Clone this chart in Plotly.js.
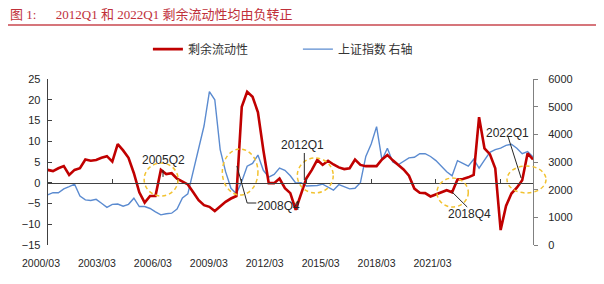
<!DOCTYPE html>
<html><head><meta charset="utf-8">
<script src="https://cdn.plot.ly/plotly-3.0.1.min.js"></script>
<style>html,body{margin:0;padding:0;background:#fff}#chart{width:604px;height:284px}</style>
</head><body><div id="chart"></div>
<script>
// Categories: quarters 2000Q1 .. 2022Q3
const quarters = [];
for (let y = 2000; y <= 2022; y++) {
  for (let q = 1; q <= 4; q++) {
    if (y === 2022 && q > 3) break;
    quarters.push(y + 'Q' + q);
  }
}

const seriesNames = ['剩余流动性', '上证指数 右轴'];

// 剩余流动性 (left axis)
const surplusLiquidity = [
  3.1, 2.8, 3.5, 4.0, 1.9, 3.1, 3.5, 5.6, 5.3, 5.5,
  6.0, 6.4, 5.1, 9.3, 7.8, 6.0, 2.3, -2.3, -4.8, -3.2,
  -3.2, 3.1, 2.1, 2.3, 1.0, 0.3, -0.4, -2.3, -4.2, -5.4,
  -5.8, -6.8, -5.6, -4.6, -3.8, -3.2, 18.3, 21.9, 20.7, 17.0,
  7.9, -0.1, -0.1, 1.0, -1.3, -2.5, -6.5, -2.5, 1.1, 3.1,
  5.5, 4.3, 5.3, 4.4, 3.7, 3.3, 3.5, 5.6, 4.3, 4.0,
  4.0, 4.0, 5.6, 6.7, 5.4, 4.2, 3.2, 1.7, -1.4, -2.4,
  -2.5, -3.3, -2.8, -2.2, -1.8, -2.3, 0.8, 0.9, 1.3, 1.9,
  15.8, 8.3, 6.9, 3.5, -11.4, -5.6, -2.6, -1.2, 0.6, 7.1,
  5.6
];

// 上证指数 (right axis)
const shanghaiIndex = [
  1810, 1890, 1890, 2030, 2110, 2200, 1770, 1630, 1610, 1650,
  1510, 1360, 1470, 1480, 1400, 1470, 1690, 1390, 1390, 1320,
  1200, 1090, 1130, 1150, 1300, 1700, 1850, 2650, 3450, 4300,
  5540, 5250, 3450, 2650, 2050, 1850, 2300, 2850, 2950, 3250,
  2700, 2450, 2550, 2780, 2700, 2500, 2240, 2250, 2130, 2150,
  2150, 2200, 2100, 1980, 2180, 2100, 2030, 2050, 2250, 3200,
  3650, 4280, 3070, 3500, 3000, 2900, 3020, 3150, 3170, 3300,
  3300, 3200, 3050, 2850, 2650, 2500, 3050, 2950, 2850, 3100,
  2780, 3070, 3350, 3450, 3500, 3600, 3640, 3500, 3300, 3380,
  3180
];

const xTickLabels = ['2000/03', '2003/03', '2006/03', '2009/03', '2012/03', '2015/03', '2018/03', '2021/03'];
const markLabels = ['2005Q2', '2008Q4', '2012Q1', '2018Q4', '2022Q1'];

const labelPos = xTickLabels.map((_, i) => i);

const traces = [
  {x: quarters, y: surplusLiquidity, name: seriesNames[0], type: 'scatter', mode: 'lines',
   line: {color: '#c00000', width: 2.6}, xaxis: 'x', yaxis: 'y2', hoverinfo: 'skip'},
  {x: quarters, y: shanghaiIndex, name: seriesNames[1], type: 'scatter', mode: 'lines',
   line: {color: '#5b8bd0', width: 1.4}, xaxis: 'x', yaxis: 'y', hoverinfo: 'skip'},
  {x: [0], y: [null], xaxis: 'x2', yaxis: 'y', mode: 'lines', showlegend: false, hoverinfo: 'skip'}
];

const circleLine = {color: '#f2c230', width: 1.5, dash: '4px,3px'};
const leaderLine = {color: '#262626', width: 1};

const layout = {
  width: 604, height: 284,
  margin: {l: 0, r: 71, t: 79, b: 39, pad: 0},
  paper_bgcolor: '#ffffff', plot_bgcolor: 'rgba(0,0,0,0)',
  font: {family: 'Liberation Sans, Arial, sans-serif', size: 11, color: '#262626'},
  title: {
    text: '图 1:\u00a0\u00a0\u00a0\u00a0\u00a0\u00a02012Q1 和 2022Q1 剩余流动性均由负转正',
    x: 10 / 604, xref: 'container', xanchor: 'left',
    y: 1 - 14 / 284, yref: 'container', yanchor: 'middle',
    font: {family: 'Liberation Serif, Noto Sans CJK SC, serif', size: 13, color: '#c0303a'}
  },
  showlegend: true,
  legend: {
    orientation: 'h', x: 0.2775, xanchor: 'left', y: 1.18, yanchor: 'middle',
    entrywidth: 105, entrywidthmode: 'pixels',
    font: {family: 'Noto Sans CJK SC, sans-serif', size: 12, color: '#333333'},
    bgcolor: 'rgba(0,0,0,0)', traceorder: 'normal'
  },
  xaxis: {
    type: 'category', domain: [47.6 / 533, 1], range: [0, quarters.length - 1],
    anchor: 'free', position: 0.375,
    showline: true, linecolor: '#404040', linewidth: 1,
    ticks: 'inside', ticklen: 4, tickcolor: '#404040',
    tickmode: 'linear', tick0: 0, dtick: 12,
    showticklabels: false, showgrid: false, zeroline: false, fixedrange: true
  },
  xaxis2: {
    domain: [0, 1], anchor: 'y', range: [-0.733, 8.797],
    tickmode: 'array', tickvals: labelPos, ticktext: xTickLabels,
    showline: false, ticks: '', showgrid: false, zeroline: false,
    ticklabelstandoff: 10, tickfont: {size: 10.5, color: '#262626'}, fixedrange: true
  },
  yaxis: {
    domain: [0, 1], anchor: 'x', side: 'right', range: [0, 6000], dtick: 1000,
    ticks: 'outside', ticklen: 4, tickcolor: '#808080',
    showline: true, linecolor: '#808080', linewidth: 1,
    showgrid: false, zeroline: false, ticklabelstandoff: 8,
    tickfont: {size: 11, color: '#262626'}, fixedrange: true
  },
  yaxis2: {
    overlaying: 'y', anchor: 'x', side: 'left', range: [-15, 25], dtick: 5,
    ticks: 'inside', ticklen: 4, tickcolor: '#404040',
    showline: true, linecolor: '#404040', linewidth: 1,
    showgrid: false, zeroline: false, ticklabelstandoff: 4,
    tickfont: {size: 11, color: '#262626'}, fixedrange: true
  },
  shapes: [
    {type: 'line', xref: 'paper', yref: 'paper', x0: 8 / 533, x1: 596 / 533, y0: 1.325, y1: 1.325,
     line: {color: '#c8474f', width: 1.5}},
    {type: 'circle', xref: 'x', yref: 'y2', x0: 17.9, x1: 24.2, y0: -3.19, y1: 4.76, line: circleLine},
    {type: 'circle', xref: 'x', yref: 'y2', x0: 32.4, x1: 39.0, y0: -2.95, y1: 8.13, line: circleLine},
    {type: 'circle', xref: 'x', yref: 'y2', x0: 46.3, x1: 52.96, y0: -2.47, y1: 5.96, line: circleLine},
    {type: 'circle', xref: 'x', yref: 'y2', x0: 72.2, x1: 78.0, y0: -5.84, y1: 1.14, line: circleLine},
    {type: 'circle', xref: 'paper', yref: 'y2', x0: 507 / 533, x1: 546 / 533, y0: -2.47, y1: 4.04, line: circleLine},
    {type: 'line', xref: 'x', yref: 'y2', x0: 21.4, x1: 21.4, y0: 3.1, y1: 1.4, line: leaderLine},
    {type: 'line', xref: 'x', yref: 'y2', x0: 35.1, x1: 37.0, y0: 4.04, y1: -4.88, line: leaderLine},
    {type: 'line', xref: 'x', yref: 'y2', x0: 37.0, x1: 38.7, y0: -4.88, y1: -4.88, line: leaderLine},
    {type: 'line', xref: 'x', yref: 'y2', x0: 47.6, x1: 47.6, y0: 7.17, y1: 0.66, line: leaderLine},
    {type: 'line', xref: 'x', yref: 'y2', x0: 75.0, x1: 77.8, y0: -2.23, y1: -5.84, line: leaderLine},
    {type: 'line', xref: 'x', yref: 'y2', x0: 85.4, x1: 87.8, y0: 11.0, y1: 1.14, line: leaderLine}
  ],
  annotations: [
    {text: markLabels[0], x: 21.4, y: 5.48},
    {text: markLabels[1], x: 42.75, y: -5.6},
    {text: markLabels[2], x: 47.2, y: 9.1},
    {text: markLabels[3], x: 78.2, y: -7.5},
    {text: markLabels[4], x: 85.2, y: 12.0}
  ].map(a => Object.assign({xref: 'x', yref: 'y2', showarrow: false, xanchor: 'center', yanchor: 'middle',
    font: {size: 12, color: '#262626'}}, a))
};

Plotly.newPlot('chart', traces, layout, {displayModeBar: false, staticPlot: true});
</script>
</body></html>
